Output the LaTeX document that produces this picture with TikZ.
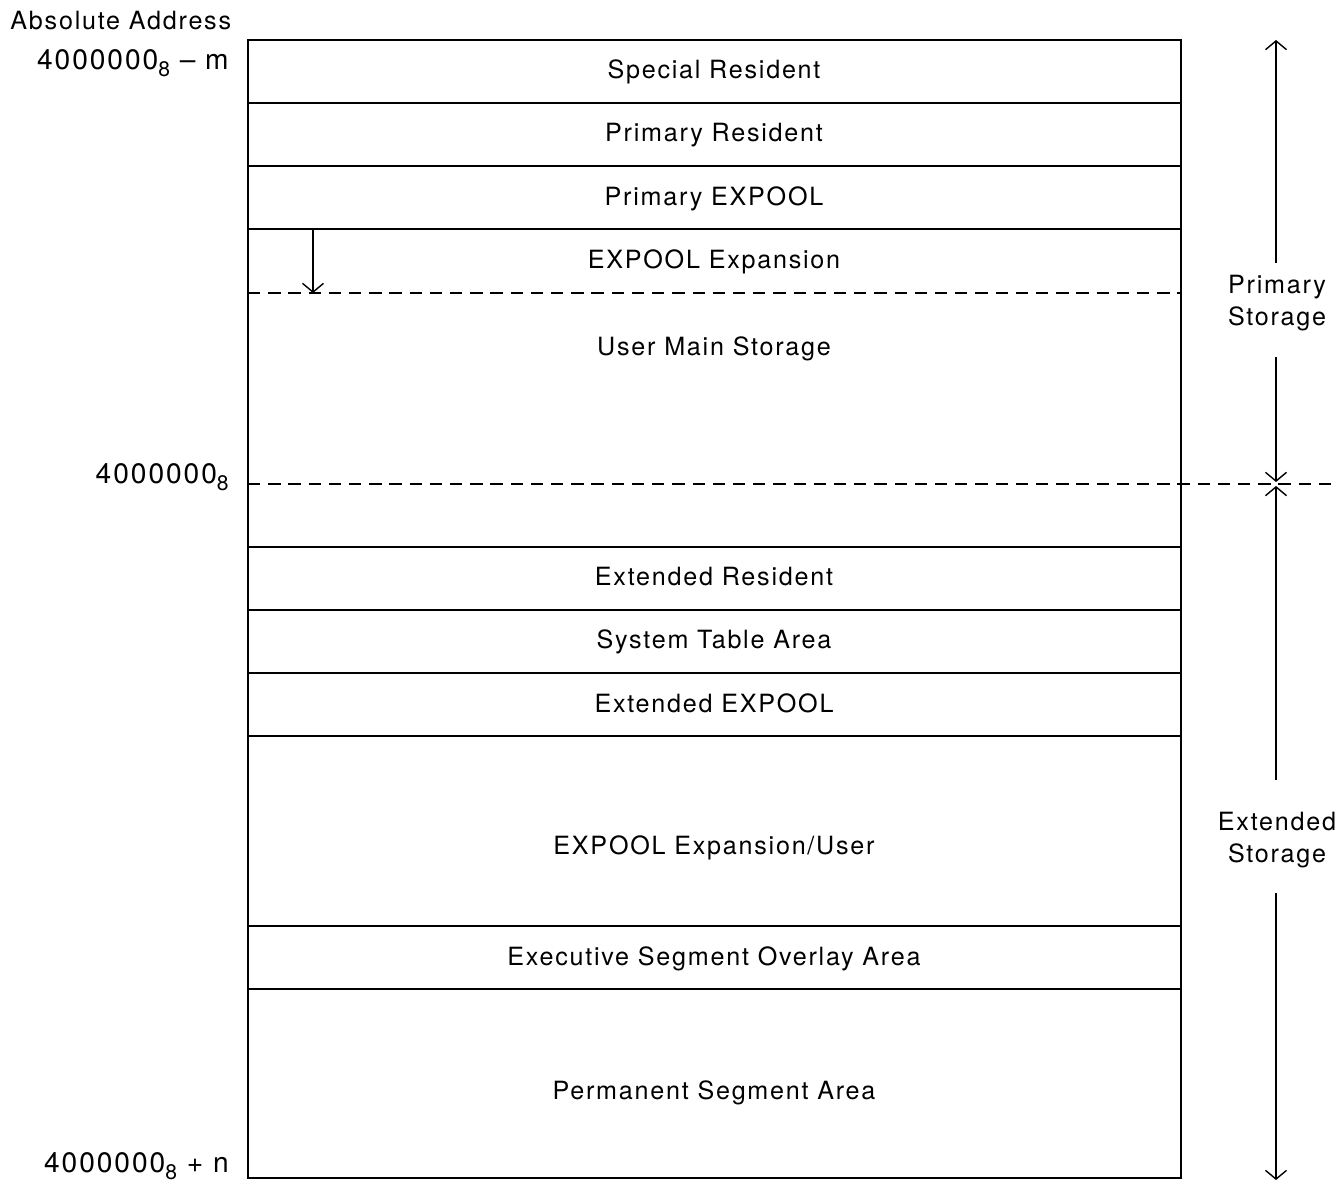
\documentclass[tikz,border=0pt]{standalone}
\usepackage{fontspec}
\setmainfont{TeX Gyre Heros}[LetterSpace=7]
\usetikzlibrary{arrows.meta}

\newcommand{\octal}{4000000\raisebox{-0.45ex}{\fontsize{12}{12}\selectfont 8}}

\begin{document}
\begin{tikzpicture}[x=0.02cm,y=-0.02cm,
  lbl/.style={font=\fontsize{14.3}{16}\selectfont, inner sep=0pt, text height=1.55ex, text depth=0.3ex},
  addr/.style={font=\fontsize{16}{18}\selectfont, inner sep=0pt, text height=1.55ex, text depth=0.3ex, anchor=east},
  side/.style={font=\fontsize{14.3}{16}\selectfont, inner sep=0pt, align=center},
  rule/.style={line width=1.1pt},
  dashrule/.style={line width=1.1pt, dash pattern=on 7pt off 4.5pt},
  thin arrow/.style={line width=0.8pt, -{Straight Barb[length=5pt,width=12pt,line width=0.8pt]}}]
\useasboundingbox (0,0) rectangle (1338,1184);

% outer frame of the storage map
\draw[rule] (248,40) rectangle (1181,1178);

% solid partitions
\foreach \y in {103,166,229,547,610,673,736,926,989}
  \draw[rule] (248,\y) -- (1181,\y);

% dashed partitions
\draw[dashrule] (248,293) -- (1181,293);
\draw[dashrule] (248,484) -- (1338,484);

% area names
\node[lbl] (sres) at (714,73) {Special Resident};
\node[lbl] (pres) at (714,136) {Primary Resident};
\node[lbl] (pexp) at (714,200) {Primary EXPOOL};
\node[lbl] (expx) at (714,263) {EXPOOL Expansion};
\node[lbl] (umain) at (714,350) {User Main Storage};
\node[lbl] (eres) at (714,580) {Extended Resident};
\node[lbl] (sysT) at (714,643) {System Table Area};
\node[lbl] (eexp) at (714,707) {Extended EXPOOL};
\node[lbl] (expu) at (714,849) {EXPOOL Expansion/User};
\node[lbl] (exseg) at (714,960) {Executive Segment Overlay Area};
\node[lbl] (perm) at (714,1094) {Permanent Segment Area};

% address column
\node[lbl, anchor=west] (abs) at (10,24) {Absolute Address};
\node[addr] (amin) at (229,64) {\octal{} -- m};
\node[addr] (amid) at (229,478) {\octal};
\node[addr] (amax) at (229,1167) {\octal{} + n};

% expansion direction of EXPOOL
\coordinate (ex0) at (313,229);
\coordinate (ex1) at (313,293);
\draw[thin arrow] (ex0) -- (ex1);

% storage extents on the right
\node[side] (prim) at (1277,303) {Primary\\[2pt]Storage};
\node[side] (ext) at (1277,840) {Extended\\[2pt]Storage};
\coordinate (ptop) at (1276,40);
\coordinate (pbot) at (1276,482);
\coordinate (etop) at (1276,486);
\coordinate (ebot) at (1276,1180);
\draw[thin arrow] (1276,263) -- (ptop);
\draw[thin arrow] (1276,357) -- (pbot);
\draw[thin arrow] (1276,780) -- (etop);
\draw[thin arrow] (1276,893) -- (ebot);
\end{tikzpicture}
\end{document}
